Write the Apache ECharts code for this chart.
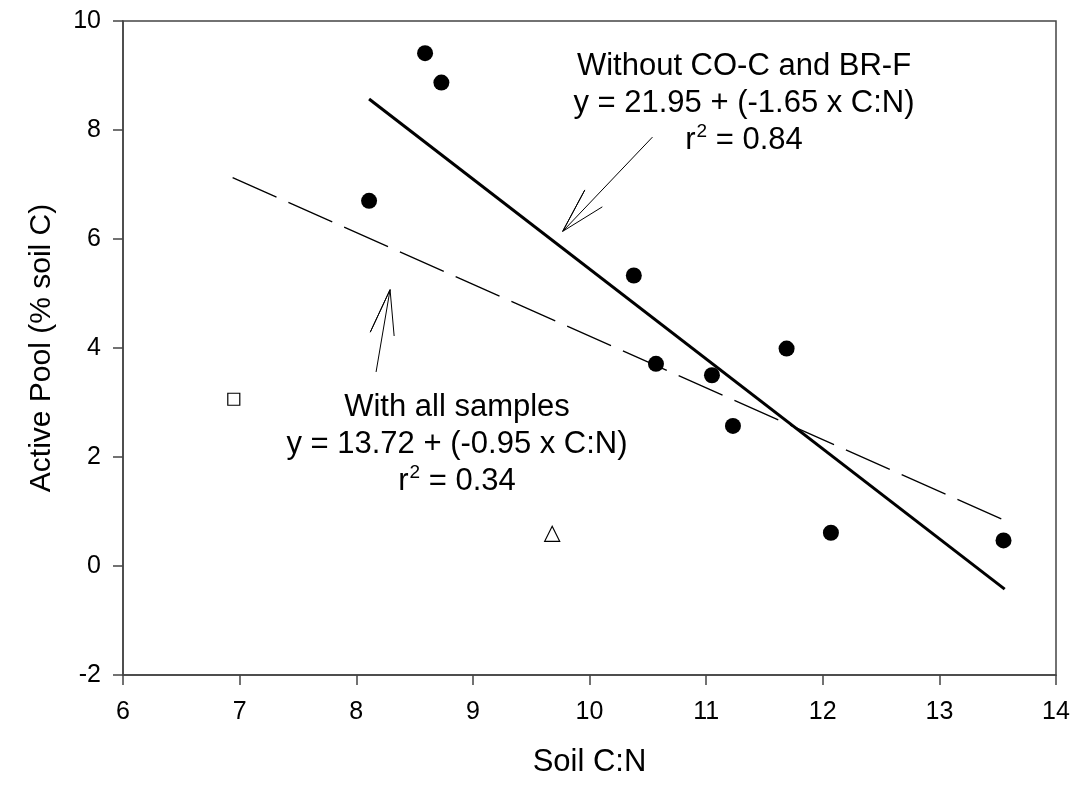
<!DOCTYPE html>
<html>
<head>
<meta charset="utf-8">
<script src="https://cdn.jsdelivr.net/npm/echarts@6/dist/echarts.min.js"></script>
<style>
  html, body { margin: 0; padding: 0; background: #fff; }
  #chart { width: 1079px; height: 790px; }
</style>
</head>
<body>
<div id="chart"></div>
<script>
// samples used for both fits (filled circles)
let soilCN = [8.59, 8.73, 8.11, 10.38, 10.57, 11.05, 11.69, 11.23, 12.07, 13.55]
let activePool = [9.41, 8.87, 6.70, 5.33, 3.71, 3.50, 3.99, 2.57, 0.61, 0.47]
// CO-C (open square) and BR-F (open triangle)
let coC = [6.95, 3.06]
let brF = [9.68, 0.59]

// regression equations as printed on the figure
let fitAll = { a: 13.72, b: -0.95, from: 6.94, to: 13.56 }
let fitSub = { a: 21.95, b: -1.65, from: 8.11, to: 13.56 }

// arrow annotations (data coords): tail, tip, head1, head2
let arrowSub = [[10.54, 7.87], [9.77, 6.14], [9.96, 6.90], [10.11, 6.59]]
let arrowAll = [[8.17, 3.56], [8.29, 5.07], [8.12, 4.29], [8.325, 4.22]]

let xTicks = [6, 7, 8, 9, 10, 11, 12, 13, 14]
let yTicks = [-2, 0, 2, 4, 6, 8, 10]

const font = '"Liberation Sans", Arial, sans-serif'

const fitLine = f => [[f.from, f.a + f.b * f.from], [f.to, f.a + f.b * f.to]]
const arrowPath = p => [p[0], p[1], p[2], p[1], p[3]]

// rich text styles for the equation blocks (r with superscript 2)
const rich = {
  t: { fontFamily: font, fontSize: 31, lineHeight: 37, color: '#000' },
  s: { fontFamily: font, fontSize: 19, lineHeight: 16, color: '#000', verticalAlign: 'top', padding: [0, 0, 0, 1] }
}

let chart = echarts.init(document.getElementById('chart'))

let option = {
  animation: false,
  grid: {
    left: 123, right: 23, top: 21, bottom: 115,
    show: true, borderColor: '#444', borderWidth: 1.5
  },
  xAxis: {
    type: 'value',
    min: xTicks[0], max: xTicks[xTicks.length - 1], interval: 1,
    name: 'Soil C:N',
    nameLocation: 'middle', nameGap: 72,
    nameTextStyle: { fontFamily: font, fontSize: 31, color: '#000' },
    axisLine: { show: true, onZero: false, lineStyle: { color: '#444', width: 1.5 } },
    axisTick: { show: true, inside: false, length: 10, lineStyle: { color: '#444', width: 1.5 } },
    axisLabel: { margin: 25, fontFamily: font, fontSize: 25, color: '#000' },
    splitLine: { show: false }
  },
  yAxis: {
    type: 'value',
    min: yTicks[0], max: yTicks[yTicks.length - 1], interval: 2,
    name: 'Active Pool (% soil C)',
    nameLocation: 'middle', nameGap: 66,
    nameTextStyle: { fontFamily: font, fontSize: 30, color: '#000' },
    axisLine: { show: true, onZero: false, lineStyle: { color: '#444', width: 1.5 } },
    axisTick: { show: true, inside: false, length: 10, lineStyle: { color: '#444', width: 1.5 } },
    axisLabel: { margin: 22, fontFamily: font, fontSize: 25, color: '#000' },
    splitLine: { show: false }
  },
  series: [
    {
      type: 'line', data: fitLine(fitAll), symbol: 'none',
      lineStyle: { color: '#000', width: 1.3, type: [48, 13] }
    },
    {
      type: 'line', data: fitLine(fitSub), symbol: 'none',
      lineStyle: { color: '#000', width: 3 }
    },
    {
      type: 'line', data: arrowPath(arrowSub), symbol: 'none',
      lineStyle: { color: '#000', width: 1 }
    },
    {
      type: 'line', data: arrowPath(arrowAll), symbol: 'none',
      lineStyle: { color: '#000', width: 1 }
    },
    {
      type: 'scatter',
      data: soilCN.map((x, i) => [x, activePool[i]]),
      symbol: 'circle', symbolSize: 16,
      itemStyle: { color: '#000', opacity: 1 }
    },
    {
      type: 'scatter', data: [coC],
      symbol: 'rect', symbolSize: 12,
      itemStyle: { color: '#fff', borderColor: '#000', borderWidth: 1.2, opacity: 1 }
    },
    {
      type: 'scatter', data: [brF],
      symbol: 'triangle', symbolSize: 15,
      itemStyle: { color: '#fff', borderColor: '#000', borderWidth: 1.2, opacity: 1 }
    }
  ],
  graphic: [
    {
      type: 'text', x: 744, y: 48,
      style: {
        text: '{t|Without CO-C and BR-F}\n{t|y = 21.95 + (-1.65 x C:N)}\n{t|r}{s|2}{t| = 0.84}',
        rich: rich, align: 'center', verticalAlign: 'top'
      }
    },
    {
      type: 'text', x: 457, y: 389,
      style: {
        text: '{t|With all samples}\n{t|y = 13.72 + (-0.95 x C:N)}\n{t|r}{s|2}{t| = 0.34}',
        rich: rich, align: 'center', verticalAlign: 'top'
      }
    }
  ]
}

chart.setOption(option)
</script>
</body>
</html>
